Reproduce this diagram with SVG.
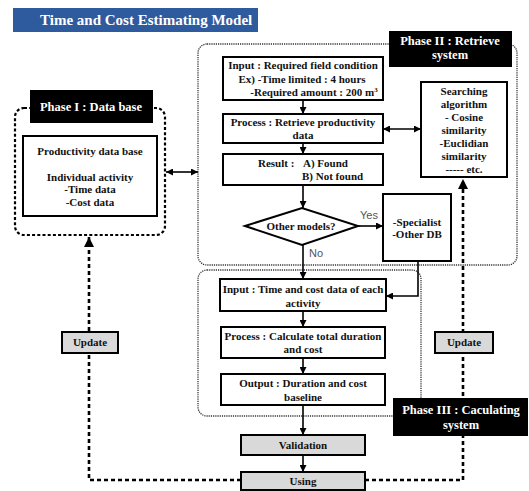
<svg xmlns="http://www.w3.org/2000/svg" width="529" height="491" viewBox="0 0 529 491">
<defs>
<marker id="ah" viewBox="0 0 10 10" refX="10" refY="5" markerWidth="8" markerHeight="7" orient="auto-start-reverse" markerUnits="userSpaceOnUse"><path d="M0,0 L10,5 L0,10 z" fill="#000"/></marker>
<marker id="ahb" viewBox="0 0 10 10" refX="10" refY="5" markerWidth="11" markerHeight="10" orient="auto-start-reverse" markerUnits="userSpaceOnUse"><path d="M0,0 L10,5 L0,10 z" fill="#000"/></marker>
</defs>
<style>
text{font-family:"Liberation Serif","Times New Roman",serif;font-weight:bold;fill:#111;}
.t{font-size:11px;text-anchor:middle;}
.ts{font-size:11px;}
.lbl{font-size:12.5px;fill:#fff;text-anchor:middle;}
.hdr{font-size:15px;fill:#fff;}
.yn{font-family:"Liberation Sans",Arial,sans-serif;font-weight:normal;font-size:11px;fill:#555;text-anchor:middle;}
.box{fill:#fff;stroke:#000;stroke-width:2;}
.gbox{fill:#d9d9d9;stroke:#000;stroke-width:2;}
.blk{fill:#000;}
.c1{fill:none;stroke:#000;stroke-width:2.2;stroke-dasharray:3 2.2;}
.c2{fill:none;stroke:#333;stroke-width:1.3;stroke-dasharray:1.2 1;}
.ln{fill:none;stroke:#000;stroke-width:1.6;}
.dl{fill:none;stroke:#000;stroke-width:2.6;stroke-dasharray:4 3;}
</style>

<g id="header">
<rect x="13" y="8" width="245" height="24" fill="#2e5a9e"/>
<text class="hdr" x="40" y="25">Time and Cost Estimating Model</text>
</g>

<g id="phase1">
<rect class="c1" x="15" y="108" width="150" height="127" rx="9"/>
<rect class="blk" x="30" y="90" width="123" height="33"/>
<text class="lbl" x="91" y="111">Phase I : Data base</text>
</g>
<g id="productivity-db">
<rect class="box" x="23" y="136" width="134" height="80"/>
<text class="t" x="90" y="155">Productivity data base</text>
<text class="t" x="90" y="181">Individual activity</text>
<text class="t" x="90" y="193">-Time data</text>
<text class="t" x="90" y="206">-Cost data</text>
</g>

<g id="phase2">
<rect class="c2" x="198" y="44" width="319" height="221" rx="9"/>
<rect class="blk" x="389" y="31" width="123" height="36"/>
<text class="lbl" x="450" y="45">Phase II : Retrieve</text>
<text class="lbl" x="450" y="59">system</text>
</g>

<g id="phase3">
<rect class="c2" x="198" y="270" width="223" height="146" rx="9"/>
</g>

<g id="connectors">
<line class="ln" x1="303" y1="100" x2="303" y2="114" marker-end="url(#ah)"/>
<line class="ln" x1="303" y1="143" x2="303" y2="154" marker-end="url(#ah)"/>
<line class="ln" x1="303" y1="185" x2="303" y2="208" marker-end="url(#ah)"/>
<line class="ln" x1="303" y1="245" x2="303" y2="279" marker-end="url(#ah)"/>
<line class="ln" x1="303" y1="311" x2="303" y2="327" marker-end="url(#ah)"/>
<line class="ln" x1="303" y1="358" x2="303" y2="374" marker-end="url(#ah)"/>
<line class="ln" x1="303" y1="405" x2="303" y2="435" marker-end="url(#ah)"/>
<line class="ln" x1="303" y1="455" x2="303" y2="472" marker-end="url(#ah)"/>
<line class="ln" x1="358" y1="226" x2="383" y2="226" marker-end="url(#ah)"/>
<polyline class="ln" points="418,261 418,296 386,296" marker-end="url(#ah)"/>
<line class="ln" x1="383" y1="129" x2="421" y2="129" marker-start="url(#ah)" marker-end="url(#ah)"/>
<line class="ln" x1="166" y1="172" x2="198" y2="172" marker-start="url(#ah)" marker-end="url(#ah)"/>
<polyline class="dl" points="365,480 463,480 463,179" marker-end="url(#ahb)"/>
<polyline class="dl" points="241,480 89,480 89,237" marker-end="url(#ahb)"/>
</g>

<g id="input-condition">
<rect class="box" x="223" y="57" width="160" height="43"/>
<text class="t" x="303" y="69">Input : Required field condition</text>
<text class="t" x="302" y="83">Ex) -Time limited : 4 hours</text>
<text class="t" x="314" y="96">-Required amount : 200 m<tspan font-size="7" dy="-4">3</tspan></text>
</g>
<g id="process-retrieve">
<rect class="box" x="223" y="114" width="160" height="29"/>
<text class="t" x="303" y="126">Process : Retrieve productivity</text>
<text class="t" x="303" y="139">data</text>
</g>
<g id="result">
<rect class="box" x="223" y="154" width="160" height="31"/>
<text class="ts" x="258" y="167">Result :</text>
<text class="ts" x="303" y="167">A) Found</text>
<text class="ts" x="302" y="180">B) Not found</text>
</g>
<g id="searching">
<rect class="box" x="421" y="82" width="86" height="95"/>
<text class="t" x="464" y="95">Searching</text>
<text class="t" x="464" y="108">algorithm</text>
<text class="t" x="464" y="121">- Cosine</text>
<text class="t" x="464" y="134">similarity</text>
<text class="t" x="464" y="147">-Euclidian</text>
<text class="t" x="464" y="160">similarity</text>
<text class="t" x="464" y="173">----- etc.</text>
</g>
<g id="decision">
<polygon points="245,226 302,208 358,226 302,245" fill="#fff" stroke="#000" stroke-width="2"/>
<text class="t" x="301" y="230">Other models?</text>
<text class="yn" x="369" y="219">Yes</text>
<text class="yn" x="316" y="257">No</text>
</g>
<g id="specialist">
<rect class="box" x="383" y="194" width="68" height="67"/>
<text class="t" x="417" y="226">-Specialist</text>
<text class="t" x="417" y="238">-Other DB</text>
</g>
<g id="input-time-cost">
<rect class="box" x="220" y="279" width="166" height="32"/>
<text class="t" x="303" y="293">Input : Time and cost data of each</text>
<text class="t" x="303" y="307">activity</text>
</g>
<g id="process-calc">
<rect class="box" x="221" y="327" width="164" height="31"/>
<text class="t" x="303" y="340">Process : Calculate total duration</text>
<text class="t" x="303" y="353">and cost</text>
</g>
<g id="output">
<rect class="box" x="221" y="374" width="164" height="31"/>
<text class="t" x="303" y="387">Output : Duration and cost</text>
<text class="t" x="303" y="401">baseline</text>
</g>
<g id="validation">
<rect class="gbox" x="241" y="435" width="124" height="20"/>
<text class="t" x="303" y="449">Validation</text>
</g>
<g id="using">
<rect class="gbox" x="241" y="472" width="124" height="18"/>
<text class="t" x="303" y="485">Using</text>
</g>
<g id="update-left">
<rect class="gbox" x="62" y="332" width="56" height="21"/>
<text class="t" x="90" y="346">Update</text>
</g>
<g id="update-right">
<rect class="gbox" x="435" y="332" width="58" height="21"/>
<text class="t" x="464" y="346">Update</text>
</g>
<g id="phase3-label">
<rect class="blk" x="393" y="398" width="135" height="38"/>
<text class="lbl" x="461" y="414">Phase III : Caculating</text>
<text class="lbl" x="461" y="429">system</text>
</g>
</svg>
